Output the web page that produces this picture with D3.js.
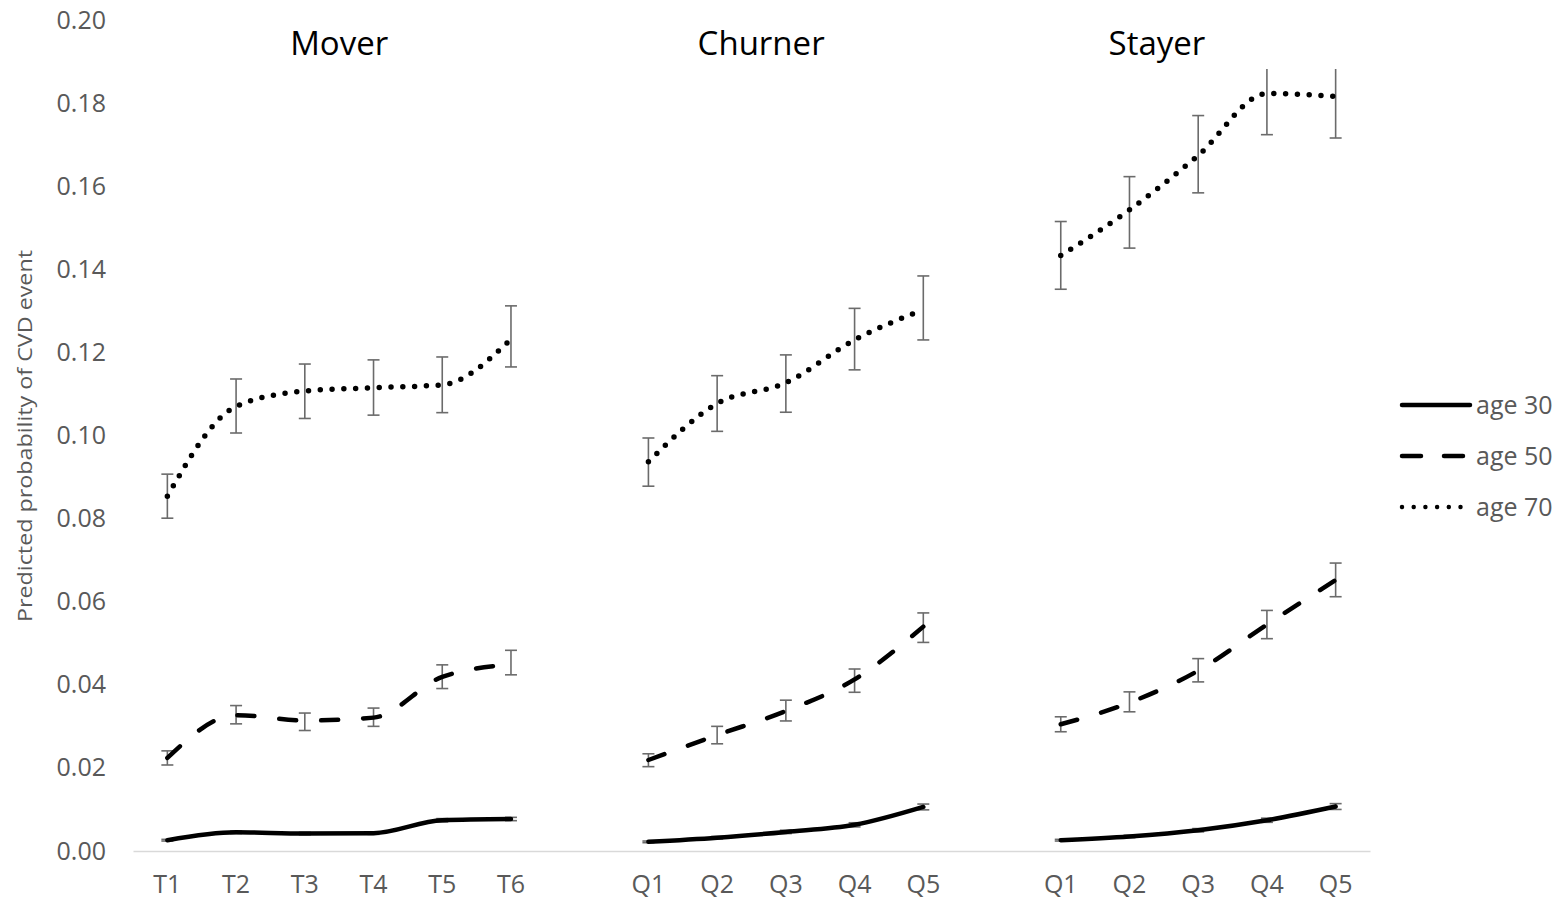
<!DOCTYPE html>
<html>
<head>
<meta charset="utf-8">
<script src="https://cdn.jsdelivr.net/npm/d3@7"></script>
<style>
  body { margin: 0; background: #fff; }
  svg { display: block; font-family: "Open Sans", sans-serif; }
</style>
</head>
<body>
<svg id="chart" width="1565" height="905"></svg>
<script>
// categories (blank slots separate the three panels)
const categories = ["T1", "T2", "T3", "T4", "T5", "T6", "",
  "Q1", "Q2", "Q3", "Q4", "Q5", " ",
  "Q1", "Q2", "Q3", "Q4", "Q5"];
const groupStarts = [0, 7, 13];
const groupNames = ["Mover", "Churner", "Stayer"];
const groupTitlePos = [2.5, 8.64, 14.4];
const yTicks = [0, 0.02, 0.04, 0.06, 0.08, 0.10, 0.12, 0.14, 0.16, 0.18, 0.20];
const seriesNames = ["age 30", "age 50", "age 70"];

// values per panel: [Mover, Churner, Stayer]
const age30 = [
  [0.0026, 0.0045, 0.0042, 0.0043, 0.0074, 0.0077],
  [0.0022, 0.0032, 0.0046, 0.0063, 0.0106],
  [0.0026, 0.0035, 0.0050, 0.0074, 0.0107]
];
const age30Lo = [
  [0.0024, 0.0042, 0.0039, 0.0040, 0.0070, 0.0073],
  [0.0020, 0.0029, 0.0042, 0.0058, 0.0099],
  [0.0024, 0.0032, 0.0046, 0.0069, 0.0100]
];
const age30Hi = [
  [0.0028, 0.0048, 0.0045, 0.0046, 0.0078, 0.0081],
  [0.0024, 0.0035, 0.0050, 0.0068, 0.0113],
  [0.0028, 0.0038, 0.0054, 0.0079, 0.0114]
];
const age50 = [
  [0.0224, 0.0327, 0.0314, 0.0321, 0.0419, 0.0449],
  [0.0219, 0.0279, 0.0337, 0.0413, 0.0540],
  [0.0305, 0.0357, 0.0434, 0.0545, 0.0652]
];
const age50Lo = [
  [0.0207, 0.0306, 0.0290, 0.0300, 0.0391, 0.0424],
  [0.0203, 0.0258, 0.0313, 0.0382, 0.0502],
  [0.0287, 0.0335, 0.0407, 0.0511, 0.0612]
];
const age50Hi = [
  [0.0241, 0.0350, 0.0332, 0.0344, 0.0448, 0.0483],
  [0.0234, 0.0300, 0.0363, 0.0438, 0.0573],
  [0.0323, 0.0383, 0.0463, 0.0579, 0.0693]
];
const age70 = [
  [0.0854, 0.1070, 0.1107, 0.1115, 0.1122, 0.1232],
  [0.0937, 0.1077, 0.1127, 0.1230, 0.1303],
  [0.1433, 0.1543, 0.1674, 0.1823, 0.1816]
];
const age70Lo = [
  [0.0801, 0.1006, 0.1041, 0.1049, 0.1055, 0.1165],
  [0.0878, 0.1010, 0.1056, 0.1158, 0.1230],
  [0.1352, 0.1451, 0.1584, 0.1724, 0.1716]
];
const age70Hi = [
  [0.0907, 0.1136, 0.1172, 0.1182, 0.1189, 0.1312],
  [0.0994, 0.1144, 0.1194, 0.1306, 0.1384],
  [0.1515, 0.1623, 0.1770, 0.1925, 0.1925]
];
// error bars above this value are cut off in the original
const errClipTop = 0.1882;

const cfg = {
  left: 133, right: 1370, top: 20, bottom: 851,
  lineWidth: 4.5,
  errColor: "#6b6b6b", errWidth: 1.6, capHalf: 6,
  tickColor: "#595959", tickSize: 25,
  axisColor: "#d9d9d9",
  titleSize: 33
};
const dashes = [null, "17 25", "0 11.8"];

const svg = d3.select("#chart");

const x = d3.scaleBand()
  .domain(d3.range(categories.length))
  .range([cfg.left, cfg.right])
  .padding(0);
const cx = (i) => x(i) + x.bandwidth() / 2;

const y = d3.scaleLinear().domain([0, 0.2]).range([cfg.bottom, cfg.top]);

// y axis (labels only)
const yAxis = svg.append("g")
  .attr("transform", `translate(${cfg.left},0)`)
  .call(d3.axisLeft(y).tickValues(yTicks).tickFormat(d3.format(".2f")).tickSize(0).tickPadding(27));
yAxis.select(".domain").remove();
yAxis.selectAll("text")
  .attr("fill", cfg.tickColor)
  .style("font-size", cfg.tickSize + "px")
  .style("font-family", "'Open Sans', sans-serif");

// x axis
const xAxis = svg.append("g")
  .attr("transform", `translate(0,${cfg.bottom})`)
  .call(d3.axisBottom(x).tickFormat((i) => categories[i].trim()).tickSize(0).tickPadding(24));
xAxis.select(".domain").attr("stroke", cfg.axisColor).attr("stroke-width", 1.5);
xAxis.selectAll("text")
  .attr("fill", cfg.tickColor)
  .style("font-size", cfg.tickSize + "px")
  .style("font-family", "'Open Sans', sans-serif");

// y title
svg.append("text")
  .attr("transform", `translate(32,${(250 + 622) / 2}) rotate(-90)`)
  .attr("text-anchor", "middle")
  .attr("fill", cfg.tickColor)
  .attr("textLength", 372)
  .attr("lengthAdjust", "spacingAndGlyphs")
  .style("font-size", "20px")
  .text("Predicted probability of CVD event");

// panel titles
svg.selectAll(".panel-title")
  .data(groupNames)
  .join("text")
  .attr("class", "panel-title")
  .attr("x", (d, i) => cfg.left + (groupTitlePos[i] + 0.5) * x.bandwidth())
  .attr("y", 55)
  .attr("text-anchor", "middle")
  .attr("fill", "#000")
  .style("font-size", cfg.titleSize + "px")
  .text((d) => d);

// clip for error bars
svg.append("clipPath").attr("id", "errclip")
  .append("rect")
  .attr("x", 0).attr("width", 1565)
  .attr("y", y(errClipTop)).attr("height", cfg.bottom - y(errClipTop));

const allSeries = [
  { v: age30, lo: age30Lo, hi: age30Hi },
  { v: age50, lo: age50Lo, hi: age50Hi },
  { v: age70, lo: age70Lo, hi: age70Hi }
];

const line = d3.line()
  .x((d) => cx(d.i))
  .y((d) => y(d.v))
  .curve(d3.curveMonotoneX);

const errG = svg.append("g").attr("clip-path", "url(#errclip)");
const lineG = svg.append("g");

allSeries.forEach((s, si) => {
  groupStarts.forEach((start, gi) => {
    const pts = s.v[gi].map((v, k) => ({
      i: start + k, v: v, lo: s.lo[gi][k], hi: s.hi[gi][k]
    }));
    // error bars
    const eb = errG.append("g")
      .selectAll("g")
      .data(pts)
      .join("g")
      .attr("stroke", cfg.errColor)
      .attr("stroke-width", cfg.errWidth);
    eb.append("line")
      .attr("x1", (d) => cx(d.i)).attr("x2", (d) => cx(d.i))
      .attr("y1", (d) => y(d.lo)).attr("y2", (d) => y(d.hi));
    eb.append("line")
      .attr("x1", (d) => cx(d.i) - cfg.capHalf).attr("x2", (d) => cx(d.i) + cfg.capHalf)
      .attr("y1", (d) => y(d.lo)).attr("y2", (d) => y(d.lo));
    eb.append("line")
      .attr("x1", (d) => cx(d.i) - cfg.capHalf).attr("x2", (d) => cx(d.i) + cfg.capHalf)
      .attr("y1", (d) => y(d.hi)).attr("y2", (d) => y(d.hi));
    // series line
    lineG.append("path")
      .datum(pts)
      .attr("d", line)
      .attr("fill", "none")
      .attr("stroke", "#000")
      .attr("stroke-width", si === 2 ? 5.5 : cfg.lineWidth)
      .attr("stroke-linecap", "round")
      .attr("stroke-linejoin", "round")
      .attr("stroke-dasharray", dashes[si]);
  });
});

// legend
const legendY = [405, 456, 507];
const legend = svg.append("g")
  .selectAll("g")
  .data(seriesNames)
  .join("g")
  .attr("transform", (d, i) => `translate(0,${legendY[i]})`);
legend.append("line")
  .attr("x1", 1402).attr("x2", (d, i) => i === 0 ? 1470 : 1466)
  .attr("stroke", "#000")
  .attr("stroke-width", (d, i) => i === 2 ? 4.5 : cfg.lineWidth)
  .attr("stroke-linecap", "round")
  .attr("stroke-dasharray", (d, i) => i === 1 ? "19 23" : i === 2 ? "0 11.7" : null);
legend.append("text")
  .attr("x", 1476)
  .attr("dy", "0.35em")
  .attr("fill", cfg.tickColor)
  .style("font-size", "25px")
  .text((d) => d);
</script>
</body>
</html>
